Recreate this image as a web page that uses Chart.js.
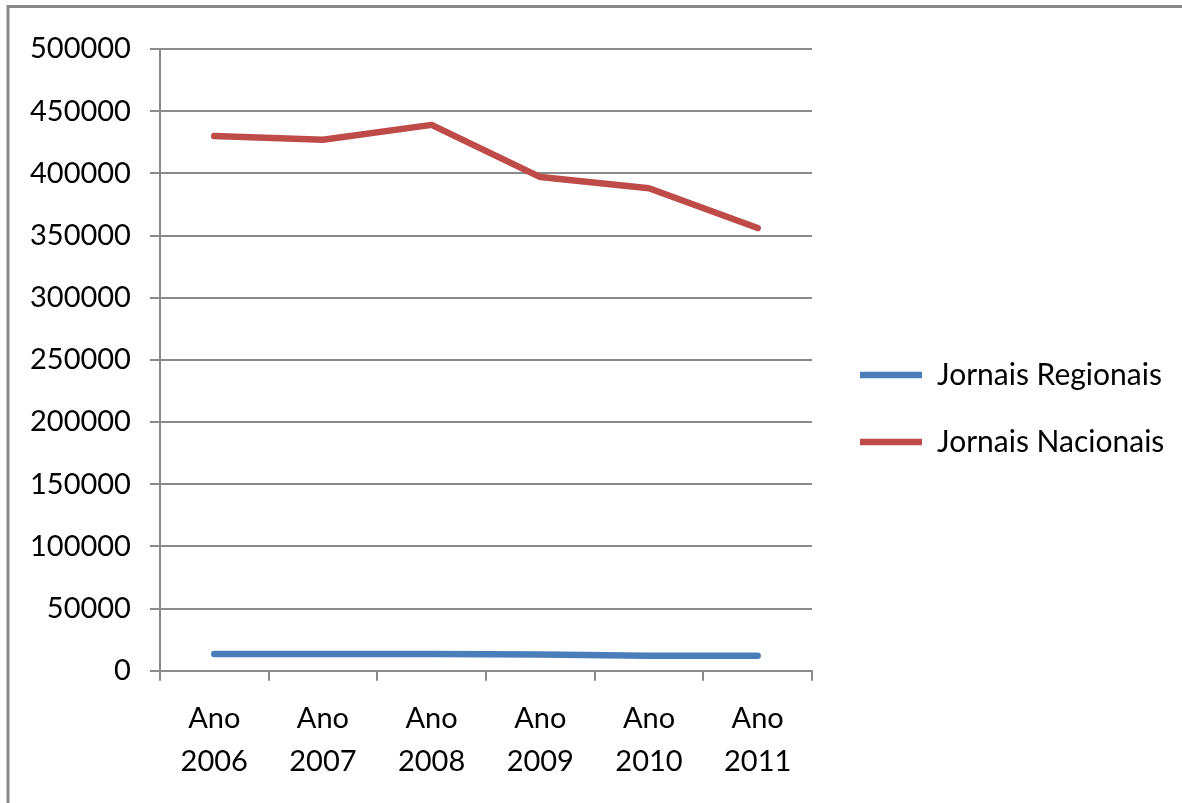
<!DOCTYPE html>
<html>
<head>
<meta charset="utf-8">
<script src="https://cdn.jsdelivr.net/npm/chart.js@4/dist/chart.umd.min.js"></script>
<style>
  html, body { margin: 0; padding: 0; background: #ffffff; }
  #wrap { position: relative; width: 1182px; height: 803px; }
</style>
</head>
<body>
<div id="wrap"><canvas id="chart" width="1182" height="803"></canvas></div>
<script>
// Circulação anual de jornais
const anos = [['Ano', '2006'], ['Ano', '2007'], ['Ano', '2008'], ['Ano', '2009'], ['Ano', '2010'], ['Ano', '2011']];
const jornaisRegionais = [13500, 13500, 13500, 13000, 12000, 12000];
const jornaisNacionais = [430000, 427000, 439000, 397000, 388000, 356000];
const nomesSeries = ['Jornais Regionais', 'Jornais Nacionais'];

const FONT = 'Lato, "Liberation Sans", sans-serif';
const FONT_SIZE = 29;
const LEG_FONT_SIZE = 30;
const GRID = '#8a8a8a';
const ESPESSURA = 6.5;

// Legenda: espaçamento, traço e posição da caixa
const LEG_PAD = 37;
const LEG_LINE = 62;
const LEG_X = 860;   // início do traço da legenda
const PAD_TOPO = 49;
const LEG_Y = 360;   // topo da primeira entrada da legenda

function larguraTexto(txt) {
  const c = document.createElement('canvas').getContext('2d');
  c.font = LEG_FONT_SIZE + 'px ' + FONT;
  return c.measureText(txt).width;
}
const largLegenda = LEG_PAD + LEG_LINE + LEG_FONT_SIZE / 2 +
  Math.max(...nomesSeries.map(larguraTexto));
const padDireita = Math.max(0, 1182 - (LEG_X - LEG_PAD) - largLegenda - 10);
// espaço vazio acima das entradas da legenda
const espacoLegenda = LEG_Y - PAD_TOPO - LEG_PAD - 12;

// Moldura cinzenta à volta do gráfico (topo e esquerda)
const moldura = {
  id: 'moldura',
  beforeDraw(chart) {
    const ctx = chart.ctx;
    ctx.save();
    ctx.fillStyle = '#ffffff';
    ctx.fillRect(0, 0, chart.width, chart.height);
    ctx.strokeStyle = '#888888';
    ctx.lineWidth = 3;
    ctx.strokeRect(8, 6.5, chart.width + 20, chart.height + 20);
    ctx.restore();
  }
};

new Chart(document.getElementById('chart'), {
  type: 'line',
  data: {
    labels: anos,
    datasets: [
      {
        label: nomesSeries[0],
        data: jornaisRegionais,
        borderColor: '#4A7EBB',
        backgroundColor: '#4A7EBB',
        borderWidth: ESPESSURA,
        borderCapStyle: 'round',
        borderJoinStyle: 'round',
        pointRadius: 0,
        tension: 0
      },
      {
        label: nomesSeries[1],
        data: jornaisNacionais,
        borderColor: '#BE4B48',
        backgroundColor: '#BE4B48',
        borderWidth: ESPESSURA,
        borderCapStyle: 'round',
        borderJoinStyle: 'round',
        pointRadius: 0,
        tension: 0
      }
    ]
  },
  options: {
    responsive: false,
    animation: false,
    layout: { padding: { left: 11, top: PAD_TOPO, right: padDireita, bottom: 3 } },
    plugins: {
      tooltip: { enabled: false },
      legend: {
        position: 'right',
        align: 'start',
        maxWidth: 420,
        title: {
          display: true,
          text: ' ',
          font: { family: FONT, size: 10 },
          padding: { top: 0, bottom: espacoLegenda }
        },
        labels: {
          usePointStyle: true,
          pointStyle: 'line',
          pointStyleWidth: LEG_LINE,
          padding: LEG_PAD,
          color: '#000000',
          font: { family: FONT, size: LEG_FONT_SIZE }
        }
      }
    },
    scales: {
      x: {
        offset: true,
        grid: {
          offset: true,
          drawOnChartArea: false,
          drawTicks: true,
          tickLength: 10,
          color: GRID,
          lineWidth: 2
        },
        border: { color: GRID, width: 2 },
        ticks: {
          color: '#000000',
          font: { family: FONT, size: FONT_SIZE, lineHeight: 1.47 },
          padding: 17,
          maxRotation: 0
        }
      },
      y: {
        min: 0,
        max: 500000,
        grid: {
          color: GRID,
          lineWidth: 2,
          tickLength: 10
        },
        border: { color: GRID, width: 2 },
        ticks: {
          stepSize: 50000,
          color: '#000000',
          font: { family: FONT, size: FONT_SIZE },
          padding: 19,
          callback: (v) => String(v)
        }
      },
      // margem vazia entre a área do gráfico e a legenda
      margem: {
        type: 'linear',
        position: 'right',
        grid: { display: false },
        border: { display: false },
        ticks: { display: false },
        afterFit(scale) { scale.width = 11; }
      }
    }
  },
  plugins: [moldura]
});
</script>
</body>
</html>
